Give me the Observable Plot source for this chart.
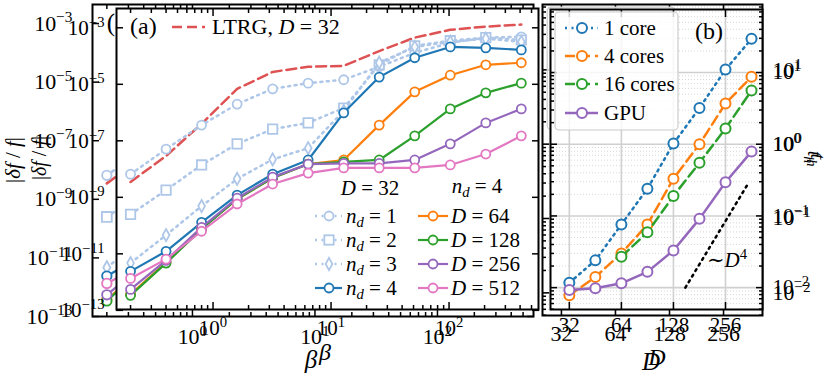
<!DOCTYPE html>
<html><head><meta charset="utf-8">
<script src="https://cdn.jsdelivr.net/npm/d3@7"></script>
<script src="https://cdn.jsdelivr.net/npm/@observablehq/plot@0.6"></script>
<style>
html,body{margin:0;padding:0;background:#fff;}
#wrap{position:relative;width:831px;height:379px;overflow:hidden;background:#fff;}
#wrap svg{position:absolute;left:0;top:0;}
</style></head><body><div id="wrap"></div>
<script>
// ---------------- data (panel a) ----------------
const beta = [0.2, 0.4, 0.8, 1.6, 3.2, 6.4, 12.8, 25.6, 51.2, 102.4, 204.8, 409.6];
const ltrgD32 = [3.5e-9, 2.9e-8, 4.0e-7, 6.9e-6, 2.75e-5, 4.2e-5, 4.5e-5, 1.5e-4, 4.5e-4, 8.5e-4, 1.1e-3, 1.3e-3];
const nd1 = [6.6e-9, 5.1e-8, 3.6e-7, 2.0e-6, 6.9e-6, 1.1e-5, 1.45e-5, 4.2e-5, 1.3e-4, 2.95e-4, 4.5e-4, 4.8e-4];
const nd2 = [2.5e-10, 1.8e-9, 1.4e-8, 7.8e-8, 2.6e-7, 4.3e-7, 1.45e-6, 4.9e-5, 2.3e-4, 3.5e-4, 4.5e-4, 3.7e-4];
const nd3 = [4.7e-12, 4.6e-11, 4.9e-10, 4.5e-9, 2.2e-8, 5.5e-8, 1.15e-6, 5.8e-5, 2.1e-4, 3.2e-4, 4.1e-4, 3.2e-4];
const nd4 = [2.4e-12, 1.23e-11, 1.3e-10, 1.2e-9, 6.6e-9, 2.1e-8, 9.8e-7, 1.8e-5, 8.7e-5, 2.1e-4, 1.95e-4, 1.65e-4];
const d64 = [3.7e-13, 5.0e-12, 7.9e-11, 8.7e-10, 4.8e-9, 1.5e-8, 2.1e-8, 3.6e-7, 5.4e-6, 2.1e-5, 4.9e-5, 5.8e-5];
const d128 = [3.4e-13, 4.7e-12, 7.4e-11, 8.7e-10, 4.8e-9, 1.5e-8, 1.8e-8, 2.1e-8, 1.5e-7, 1.35e-6, 5.0e-6, 1.1e-5];
const d256 = [5.5e-13, 5.9e-12, 8.7e-11, 9.3e-10, 5.2e-9, 1.5e-8, 1.6e-8, 1.6e-8, 2.1e-8, 7.8e-8, 4.3e-7, 1.35e-6];
const d512 = [1.35e-12, 6.5e-12, 6.3e-11, 5.8e-10, 2.95e-9, 7.2e-9, 1.1e-8, 1.1e-8, 1.1e-8, 1.4e-8, 3.4e-8, 1.5e-7];
const aTicksX = [1, 10, 100];
const aTicksY = [1e-13, 1e-11, 1e-9, 1e-7, 1e-5, 1e-3];
const aMinorX = [0.2,0.3,0.4,0.5,0.6,0.7,0.8,0.9, 2,3,4,5,6,7,8,9, 20,30,40,50,60,70,80,90, 200,300,400,500];

// ---------------- data (panel b) ----------------
const bondD = [32, 45.25, 64, 90.5, 128, 181, 256, 362];
const bondD16 = [64, 90.5, 128, 181, 256, 362];
const core1 = [0.0117, 0.024, 0.076, 0.24, 1.02, 3.2, 11, 29.5];
const core4 = [0.0078, 0.0141, 0.030, 0.076, 0.33, 1.0, 3.7, 8.7];
const core16 = [0.027, 0.059, 0.19, 0.55, 1.66, 5.6];
const gpu = [0.0093, 0.0098, 0.0115, 0.0166, 0.033, 0.091, 0.295, 0.79];
const guideD = [150, 350];
const guideT = [0.01, 0.296];
const bTicksX = [32, 64, 128, 256];
const bTicksY = [0.01, 0.1, 1, 10];
const bMinorY = [0.005,0.006,0.007,0.008,0.009, 0.02,0.03,0.04,0.05,0.06,0.07,0.08,0.09, 0.2,0.3,0.4,0.5,0.6,0.7,0.8,0.9, 2,3,4,5,6,7,8,9, 20,30,40,50,60,70];

const FONT = "'Liberation Serif', 'DejaVu Serif', serif";
const LB = "#aec7e8";
const DOT = "2,4.5";
const DASH = "10,5";
const thinDiamond = {draw(ctx, size) { const r = Math.sqrt(size / Math.PI); const w = r * 0.75, h = r * 1.35;
  ctx.moveTo(0, -h); ctx.lineTo(w, 0); ctx.lineTo(0, h); ctx.lineTo(-w, 0); ctx.closePath(); }};

const aSeries = [
  {vals: ltrgD32, color: "#de5253", w: 2.5, dash: DASH, sym: null},
  {vals: nd1, color: LB, w: 2.5, dash: DOT, sym: "circle", r: 4.5},
  {vals: nd2, color: LB, w: 2.5, dash: DOT, sym: "square", r: 5.3},
  {vals: nd3, color: LB, w: 2.5, dash: DOT, sym: thinDiamond, r: 4.5},
  {vals: nd4, color: "#1f77b4", w: 2.2, sym: "circle", r: 4.5},
  {vals: d64, color: "#ff7f0e", w: 2.2, sym: "circle", r: 4.5},
  {vals: d128, color: "#2ca02c", w: 2.2, sym: "circle", r: 4.5},
  {vals: d256, color: "#9467bd", w: 2.2, sym: "circle", r: 4.5},
  {vals: d512, color: "#e377c2", w: 2.2, sym: "circle", r: 4.5}
];
const bSeries = [
  {D: bondD, t: core1, color: "#1f77b4", dash: DOT, label: "1 core"},
  {D: bondD, t: core4, color: "#ff7f0e", dash: DASH, label: "4 cores"},
  {D: bondD16, t: core16, color: "#2ca02c", dash: DASH, label: "16 cores"},
  {D: bondD, t: gpu, color: "#9467bd", dash: null, label: "GPU"}
];

const wrap = document.getElementById("wrap");

function fixSup(svgEl, fs) {
  d3.select(svgEl).selectAll("text").each(function() {
    const m = (this.textContent || "").match(/^10\^(-?\d+)$/);
    if (m) {
      const e = m[1].replace("-", "\u2212");
      this.innerHTML = `10<tspan dy="${(-0.38 * fs).toFixed(1)}" font-size="${(0.7 * fs).toFixed(1)}">${e}</tspan>`;
    }
  });
}
function addText(svg, x, y, html, size, o = {}) {
  const t = svg.append("text").attr("x", x).attr("y", y)
    .attr("font-family", FONT).attr("font-size", size).attr("fill", "black")
    .attr("text-anchor", o.anchor || "start");
  if (o.italic) t.attr("font-style", "italic");
  if (o.rotate) t.attr("transform", `rotate(${o.rotate} ${x} ${y})`);
  t.html(html);
  return t;
}
const it = s => `<tspan font-style="italic">${s}</tspan>`;
const ndTxt = (k, fs) => `${it("n")}<tspan font-style="italic" font-size="${0.7*fs}" dy="${0.2*fs}">d</tspan><tspan dy="${-0.2*fs}"> = ${k}</tspan>`;
const dTxt = k => `${it("D")} = ${k}`;

function tickMarks(axis, anchor, data, size) {
  if (axis === "x") return Plot.axisX(data, {anchor, tickSize: size, fill: "none", tickFormat: () => "", label: null, strokeWidth: 1.5, dy: anchor === "bottom" ? -size : size});
  return Plot.axisY(data, {anchor, tickSize: size, fill: "none", tickFormat: () => "", label: null, strokeWidth: 1.5, dx: anchor === "left" ? size : -size});
}
function drawMarker(g, sym, x, y, r, color, sw) {
  if (sym === "circle") g.append("circle").attr("cx", x).attr("cy", y).attr("r", r).attr("fill", "white").attr("stroke", color).attr("stroke-width", sw);
  else if (sym === "square") { const a = r * 1.77; g.append("rect").attr("x", x - a/2).attr("y", y - a/2).attr("width", a).attr("height", a).attr("fill", "white").attr("stroke", color).attr("stroke-width", sw); }
  else { const w = r * 0.75, h = r * 1.35; g.append("path").attr("d", `M${x},${y-h}L${x+w},${y}L${x},${y+h}L${x-w},${y}Z`).attr("fill", "white").attr("stroke", color).attr("stroke-width", sw); }
}
const expFmt = d => "10^" + Math.round(Math.log10(d));

// ---------------- panel (a) ----------------
function panelA(g) {
  const s = g.s, fs = 21 * s;
  const marks = [Plot.frame({fill: "white", stroke: "none"})];
  for (const se of aSeries) {
    const rows = beta.map((b, i) => ({b, v: se.vals[i]}));
    marks.push(Plot.line(rows, {x: "b", y: "v", stroke: se.color, strokeWidth: se.w * s, strokeDasharray: se.dash || undefined, clip: true}));
    if (se.sym) marks.push(Plot.dot(rows, {x: "b", y: "v", symbol: se.sym, r: se.r * s, stroke: se.color, strokeWidth: 1.8 * s, fill: "white", clip: true}));
  }
  marks.push(
    tickMarks("x", "bottom", aTicksX, 7), tickMarks("x", "top", aTicksX, 7),
    tickMarks("x", "bottom", aMinorX, 4), tickMarks("x", "top", aMinorX, 4),
    tickMarks("y", "left", aTicksY, 7), tickMarks("y", "right", aTicksY, 7),
    Plot.axisX(aTicksX, {anchor: "bottom", tickSize: 0, tickPadding: g.xPad, tickFormat: expFmt, label: null, fontSize: fs}),
    Plot.axisY(aTicksY, {anchor: "left", tickSize: 0, tickPadding: g.yPad, tickFormat: expFmt, label: null, fontSize: fs}),
    Plot.frame({stroke: "black", strokeWidth: 2, fill: "none"})
  );
  const plot = Plot.plot({
    width: 831, height: 379,
    marginLeft: g.L, marginRight: 831 - g.R, marginTop: g.T, marginBottom: 379 - g.B,
    style: {background: "none", fontFamily: FONT, fontSize: fs + "px", color: "black", overflow: "visible"},
    x: {type: "log", domain: g.xdom, label: null},
    y: {type: "log", domain: g.ydom, label: null},
    marks
  });
  fixSup(plot, fs);
  const svg = d3.select(plot);
  const P = (x, y) => [g.L + (x - 116) * (g.R - g.L) / 422, g.T + (y - 8) * (g.B - g.T) / 301];
  const lg = svg.append("g");
  // panel letter + LTRG legend
  let p = P(130, 34); addText(lg, p[0], p[1], "(a)", 24 * s);
  let p1 = P(172, 27), p2 = P(205, 27);
  lg.append("line").attr("x1", p1[0]).attr("x2", p2[0]).attr("y1", p1[1]).attr("y2", p1[1]).attr("stroke", "#de5253").attr("stroke-width", 2.5 * s).attr("stroke-dasharray", DASH);
  p = P(212, 34); addText(lg, p[0], p[1], `LTRG, ${it("D")} = 32`, 22 * s);
  // block legend
  p = P(370, 195); addText(lg, p[0], p[1], dTxt(32), fs, {anchor: "middle"});
  p = P(477, 193); addText(lg, p[0], p[1], ndTxt(4, fs), fs, {anchor: "middle"});
  const rowsY = [216, 240, 264, 288];
  const col1 = [[aSeries[1], ndTxt(1, fs)], [aSeries[2], ndTxt(2, fs)], [aSeries[3], ndTxt(3, fs)], [aSeries[4], ndTxt(4, fs)]];
  const col2 = [[aSeries[5], dTxt(64)], [aSeries[6], dTxt(128)], [aSeries[7], dTxt(256)], [aSeries[8], dTxt(512)]];
  const drawCol = (col, xa, xb, xm, xt) => col.forEach(([se, html], i) => {
    const a = P(xa, rowsY[i]), b = P(xb, rowsY[i]), m = P(xm, rowsY[i]), t = P(xt, rowsY[i] + 7);
    const ln = lg.append("line").attr("x1", a[0]).attr("x2", b[0]).attr("y1", a[1]).attr("y2", a[1]).attr("stroke", se.color).attr("stroke-width", se.w * s);
    if (se.dash) ln.attr("stroke-dasharray", se.dash);
    drawMarker(lg, se.sym, m[0], m[1], se.r * s, se.color, 1.8 * s);
    addText(lg, t[0], t[1], html, fs);
  });
  drawCol(col1, 315, 342, 329, 346);
  drawCol(col2, 418, 448, 433, 451);
  // axis titles
  addText(svg, g.betaX, g.betaY, "β", 24 * s, {anchor: "middle", italic: true});
  addText(svg, g.ylabX, g.ylabY, `|${it("δf")} / ${it("f")}|`, 20 * s, {anchor: "middle", rotate: -90});
  wrap.appendChild(plot);
}

// ---------------- panel (b) ----------------
function panelB(g) {
  const s = g.s, fs = 21 * s;
  const marks = [
    Plot.frame({fill: "white", stroke: "none"}),
    Plot.gridY(bMinorY, {stroke: "#d4d4d4", strokeOpacity: 1, strokeWidth: 0.9, strokeDasharray: "1,2"}),
    Plot.gridY(bTicksY, {stroke: "#d0d0d0", strokeOpacity: 1, strokeWidth: 1.6}),
    Plot.gridX(bTicksX, {stroke: "#d0d0d0", strokeOpacity: 1, strokeWidth: 1.6}),
    Plot.line(guideD.map((d, i) => ({d, t: guideT[i]})), {x: "d", y: "t", stroke: "black", strokeWidth: 2.5 * s, strokeDasharray: DOT, clip: true})
  ];
  for (const se of bSeries) {
    const rows = se.D.map((d, i) => ({d, t: se.t[i]}));
    marks.push(Plot.line(rows, {x: "d", y: "t", stroke: se.color, strokeWidth: 2.5 * s, strokeDasharray: se.dash || undefined, clip: true}));
    marks.push(Plot.dot(rows, {x: "d", y: "t", r: 5 * s, stroke: se.color, strokeWidth: 2 * s, fill: "white", clip: true}));
  }
  marks.push(
    tickMarks("x", "bottom", bTicksX, 7), tickMarks("x", "top", bTicksX, 7),
    tickMarks("y", "left", bTicksY, 7), tickMarks("y", "right", bTicksY, 7),
    tickMarks("y", "left", bMinorY, 4), tickMarks("y", "right", bMinorY, 4),
    Plot.axisX(bTicksX, {anchor: "bottom", tickSize: 0, tickPadding: g.xPad, tickFormat: d => String(d), label: null, fontSize: fs}),
    Plot.axisY(bTicksY, {anchor: "right", tickSize: 0, tickPadding: g.yPad, tickFormat: expFmt, label: null, fontSize: fs}),
    Plot.frame({stroke: "black", strokeWidth: 2, fill: "none"})
  );
  const plot = Plot.plot({
    width: 831, height: 379,
    marginLeft: g.L, marginRight: 831 - g.R, marginTop: g.T, marginBottom: 379 - g.B,
    style: {background: "none", fontFamily: FONT, fontSize: fs + "px", color: "black", overflow: "visible"},
    x: {type: "log", base: 2, domain: g.xdom, label: null},
    y: {type: "log", domain: g.ydom, label: null},
    marks
  });
  fixSup(plot, fs);
  const svg = d3.select(plot);
  const P = (x, y) => [g.L + (x - 550) * (g.R - g.L) / 212, g.T + (y - 9) * (g.B - g.T) / 300];
  const lg = svg.append("g");
  let a = P(555, 12), b = P(678, 130);
  lg.append("rect").attr("x", a[0]).attr("y", a[1]).attr("width", b[0] - a[0]).attr("height", b[1] - a[1]).attr("rx", 4)
    .attr("fill", "white").attr("fill-opacity", 0.8).attr("stroke", "#cccccc").attr("stroke-width", 1.2);
  const rowsY = [28, 56, 84, 113];
  bSeries.forEach((se, i) => {
    const l1 = P(565, rowsY[i]), l2 = P(598, rowsY[i]), m = P(582, rowsY[i]), t = P(604, rowsY[i] + 7);
    const ln = lg.append("line").attr("x1", l1[0]).attr("x2", l2[0]).attr("y1", l1[1]).attr("y2", l1[1]).attr("stroke", se.color).attr("stroke-width", 2.5 * s);
    if (se.dash) ln.attr("stroke-dasharray", se.dash);
    drawMarker(lg, "circle", m[0], m[1], 5 * s, se.color, 2 * s);
    addText(lg, t[0], t[1], se.label, fs);
  });
  let p = P(695, 39); addText(lg, p[0], p[1], "(b)", 24 * s);
  p = P(707, 267); addText(lg, p[0], p[1], `∼${it("D")}<tspan dy="${-0.38*fs}" font-size="${0.7*fs}">4</tspan>`, fs);
  addText(svg, g.dX, g.dY, "D", 24 * s, {anchor: "middle", italic: true});
  addText(svg, g.tX, g.tY, `${it("t")}<tspan font-style="italic" font-size="${0.7*20*s}" dy="${0.2*20*s}">h</tspan>`, 20 * s, {anchor: "middle", rotate: 90});
  wrap.appendChild(plot);
}

// outer copies first, inner copies on top
panelA({L: 92, R: 533, T: 4, B: 316, xdom: [10 ** -0.816, 10 ** 2.784], ydom: [1e-13, 10 ** -2.35], s: 1.045, xPad: 12, yPad: 20,
  betaX: 311, betaY: 368, ylabX: 20, ylabY: 160});
panelB({L: 542, R: 762, T: 4, B: 315, xdom: [25.1, 422], ydom: [10 ** -2.305, 10 ** 1.879], s: 1.04, xPad: 10, yPad: 10,
  dX: 651, dY: 370, tX: 811, tY: 160});
panelA({L: 116, R: 538, T: 8, B: 309, xdom: [10 ** -0.818, 10 ** 2.758], ydom: [10 ** -12.97, 10 ** -2.317], s: 1, xPad: 11, yPad: 12,
  betaX: 325, betaY: 360, ylabX: 46, ylabY: 158});
panelB({L: 550, R: 762, T: 9, B: 309, xdom: [24.9, 419], ydom: [10 ** -2.305, 10 ** 1.879], s: 1, xPad: 8, yPad: 10,
  dX: 657, dY: 365, tX: 808, tY: 157});
</script></body></html>
